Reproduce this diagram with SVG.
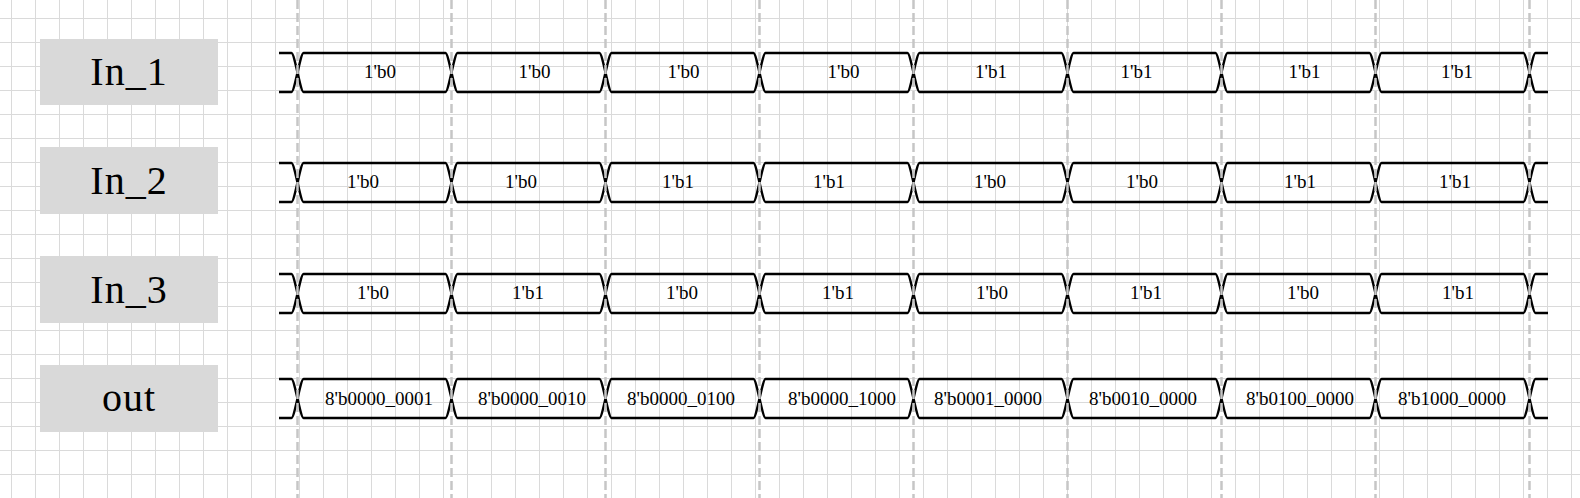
<svg xmlns="http://www.w3.org/2000/svg" xmlns:xlink="http://www.w3.org/1999/xlink" width="1580" height="498" viewBox="0 0 1580 498">
<style>
.lbl{fill:#d9d9d9}
.lt{font-family:"Liberation Serif","Times New Roman",serif;font-size:40px;fill:#000;text-anchor:middle;letter-spacing:1px}
.vt{font-family:"Liberation Serif","Times New Roman",serif;font-size:19px;fill:#000;text-anchor:middle}
.w{fill:none;stroke:#000;stroke-width:2.4;stroke-linejoin:round}
.clk{stroke:#c6c6c6;stroke-width:2.5;stroke-dasharray:9 4;fill:none}
</style>
<defs>
<pattern id="grid" width="24" height="24" patternUnits="userSpaceOnUse">
<path d="M11.5 0V24M0 18.5H24" stroke="#dadada" stroke-width="1" fill="none"/>
</pattern>
<g id="wave">
<path class="w" d="M279,0 H291.5 C294.5,0 300.5,39 303.5,39 H445.5 C448.5,39 454.5,0 457.5,0 H599.5 C602.5,0 608.5,39 611.5,39 H753.5 C756.5,39 762.5,0 765.5,0 H907.5 C910.5,0 916.5,39 919.5,39 H1061.5 C1064.5,39 1070.5,0 1073.5,0 H1215.5 C1218.5,0 1224.5,39 1227.5,39 H1369.5 C1372.5,39 1378.5,0 1381.5,0 H1523.5 C1526.5,0 1532.5,39 1535.5,39 H1548"/>
<path class="w" d="M279,39 H291.5 C294.5,39 300.5,0 303.5,0 H445.5 C448.5,0 454.5,39 457.5,39 H599.5 C602.5,39 608.5,0 611.5,0 H753.5 C756.5,0 762.5,39 765.5,39 H907.5 C910.5,39 916.5,0 919.5,0 H1061.5 C1064.5,0 1070.5,39 1073.5,39 H1215.5 C1218.5,39 1224.5,0 1227.5,0 H1369.5 C1372.5,0 1378.5,39 1381.5,39 H1523.5 C1526.5,39 1532.5,0 1535.5,0 H1548"/>
</g>
</defs>
<rect x="0" y="0" width="1580" height="498" fill="#fff"/>
<rect x="0" y="0" width="1580" height="498" fill="url(#grid)"/>

<g id="row-in1">
<rect class="lbl" x="40" y="39" width="178" height="66"/>
<text class="lt" x="129" y="85">In_1</text>
<use xlink:href="#wave" href="#wave" transform="translate(0,53)"/>
<text class="vt" x="380" y="78">1'b0</text>
<text class="vt" x="534.5" y="78">1'b0</text>
<text class="vt" x="683.5" y="78">1'b0</text>
<text class="vt" x="843.5" y="78">1'b0</text>
<text class="vt" x="991" y="78">1'b1</text>
<text class="vt" x="1136.5" y="78">1'b1</text>
<text class="vt" x="1304.5" y="78">1'b1</text>
<text class="vt" x="1457" y="78">1'b1</text>
</g>

<g id="row-in2">
<rect class="lbl" x="40" y="147" width="178" height="67"/>
<text class="lt" x="129" y="194">In_2</text>
<use xlink:href="#wave" href="#wave" transform="translate(0,163)"/>
<text class="vt" x="363" y="188">1'b0</text>
<text class="vt" x="521" y="188">1'b0</text>
<text class="vt" x="678" y="188">1'b1</text>
<text class="vt" x="829" y="188">1'b1</text>
<text class="vt" x="990" y="188">1'b0</text>
<text class="vt" x="1142" y="188">1'b0</text>
<text class="vt" x="1300" y="188">1'b1</text>
<text class="vt" x="1455" y="188">1'b1</text>
</g>

<g id="row-in3">
<rect class="lbl" x="40" y="256" width="178" height="67"/>
<text class="lt" x="129" y="302.5">In_3</text>
<use xlink:href="#wave" href="#wave" transform="translate(0,274)"/>
<text class="vt" x="373" y="299">1'b0</text>
<text class="vt" x="528" y="299">1'b1</text>
<text class="vt" x="682" y="299">1'b0</text>
<text class="vt" x="838" y="299">1'b1</text>
<text class="vt" x="992" y="299">1'b0</text>
<text class="vt" x="1146" y="299">1'b1</text>
<text class="vt" x="1303" y="299">1'b0</text>
<text class="vt" x="1458" y="299">1'b1</text>
</g>

<g id="row-out">
<rect class="lbl" x="40" y="365" width="178" height="67"/>
<text class="lt" x="129" y="410.5">out</text>
<use xlink:href="#wave" href="#wave" transform="translate(0,379)"/>
<text class="vt" x="379" y="404.5">8'b0000_0001</text>
<text class="vt" x="532" y="404.5">8'b0000_0010</text>
<text class="vt" x="681" y="404.5">8'b0000_0100</text>
<text class="vt" x="842" y="404.5">8'b0000_1000</text>
<text class="vt" x="988" y="404.5">8'b0001_0000</text>
<text class="vt" x="1143" y="404.5">8'b0010_0000</text>
<text class="vt" x="1300" y="404.5">8'b0100_0000</text>
<text class="vt" x="1452" y="404.5">8'b1000_0000</text>
</g>

<g id="connectors">
<path class="clk" d="M297.5,0V498M451.5,0V498M605.5,0V498M759.5,0V498M913.5,0V498M1067.5,0V498M1221.5,0V498M1375.5,0V498M1529.5,0V498"/>
</g>
</svg>
